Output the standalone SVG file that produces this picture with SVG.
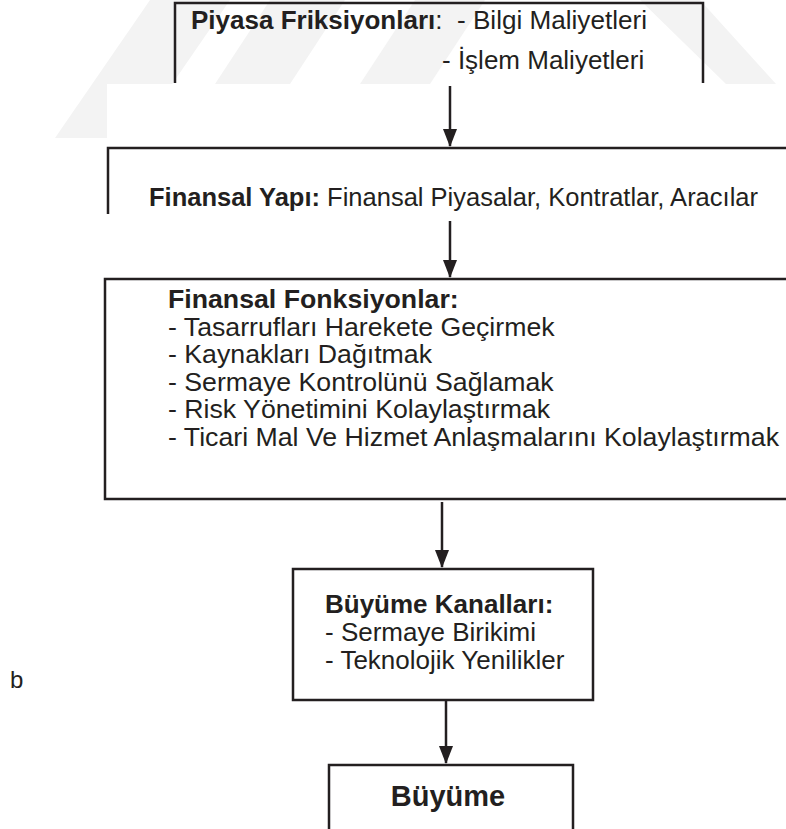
<svg xmlns="http://www.w3.org/2000/svg" width="786" height="829" viewBox="0 0 786 829">
<style>
.box{fill:none;stroke:#231f20;stroke-width:2.5}
.edge{stroke:#231f20;stroke-width:2.5;fill:none}
.t{font-family:"Liberation Sans",Arial,sans-serif;font-size:26px;fill:#231f20}
.b{font-weight:bold}
.m{font-size:26.7px}
.big{font-size:29px}
.wm{fill:#f3f3f3}
</style>
<defs>
<marker id="ah" viewBox="0 0 18 14" refX="17" refY="7" markerWidth="18" markerHeight="14" markerUnits="userSpaceOnUse" orient="auto">
<path d="M0,0 L18,7 L0,14 Z" fill="#231f20"/>
</marker>
<clipPath id="wmclip"><path d="M0,0 H786 V84 H107 V140 H0 Z"/></clipPath>
</defs>
<rect width="786" height="829" fill="#ffffff"/>
<g id="watermark" clip-path="url(#wmclip)">
<polygon class="wm" points="55,138 135,138 230,0 150,0"/>
<polygon class="wm" points="215,84 290,84 345,0 270,0"/>
<polygon class="wm" points="360,84 430,84 485,0 415,0"/>
<polygon class="wm" points="640,0 700,0 786,95 786,84 726,84"/>
</g>
<g id="n1">
<path class="box" d="M175,83 V3 H703 V83"/>
<text class="t" x="191" y="29"><tspan class="b">Piyasa Friksiyonları</tspan>:</text>
<text class="t" x="457" y="29" textLength="190" lengthAdjust="spacingAndGlyphs">- Bilgi Maliyetleri</text>
<text class="t" x="442" y="69">- İşlem Maliyetleri</text>
</g>
<g id="n2">
<path class="box" d="M108,214 V148 H790"/>
<text class="t" x="149" y="206" style="font-size:25.5px"><tspan class="b">Finansal Yapı:</tspan> Finansal Piyasalar, Kontratlar, Aracılar</text>
</g>
<g id="n3">
<path class="box" d="M790,279 H105 V499 H790"/>
<text class="t b m" x="168" y="308">Finansal Fonksiyonlar:</text>
<text class="t m" x="168" y="336">- Tasarrufları Harekete Geçirmek</text>
<text class="t m" x="168" y="363">- Kaynakları Dağıtmak</text>
<text class="t m" x="168" y="391">- Sermaye Kontrolünü Sağlamak</text>
<text class="t m" x="168" y="418">- Risk Yönetimini Kolaylaştırmak</text>
<text class="t m" x="168" y="446">- Ticari Mal Ve Hizmet Anlaşmalarını Kolaylaştırmak</text>
</g>
<g id="n4">
<rect class="box" x="293" y="569" width="300" height="131"/>
<text class="t b" x="325" y="613">Büyüme Kanalları:</text>
<text class="t" x="325" y="641">- Sermaye Birikimi</text>
<text class="t" x="325" y="669">- Teknolojik Yenilikler</text>
</g>
<g id="n5">
<path class="box" d="M329,832 V765 H573 V832"/>
<text class="t b big" x="448" y="806" text-anchor="middle">Büyüme</text>
</g>
<g id="label-b">
<text class="t" x="10" y="688" style="font-size:24px">b</text>
</g>
<g id="connectors">
<line class="edge" x1="450" y1="86" x2="450" y2="146" marker-end="url(#ah)"/>
<line class="edge" x1="450" y1="221" x2="450" y2="277" marker-end="url(#ah)"/>
<line class="edge" x1="442" y1="502" x2="442" y2="567" marker-end="url(#ah)"/>
<line class="edge" x1="446" y1="701" x2="446" y2="763" marker-end="url(#ah)"/>
</g>
</svg>
